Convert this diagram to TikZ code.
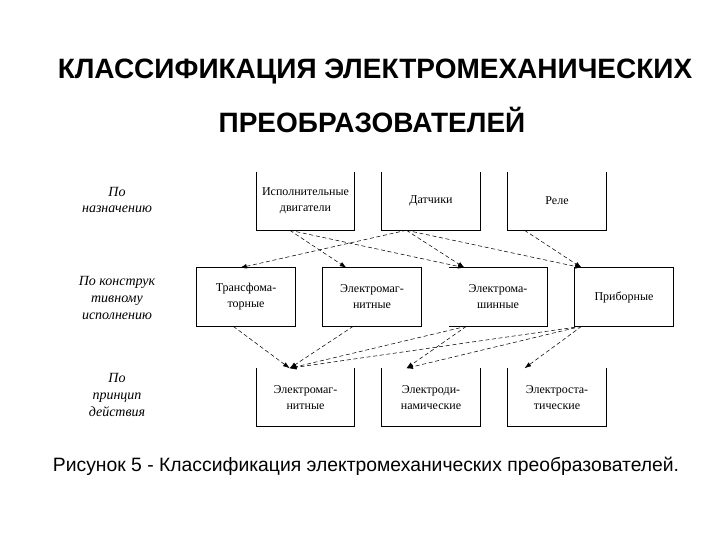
\documentclass[tikz,border=0pt]{standalone}
\usepackage{fontspec}
\setmainfont{Liberation Serif}
\newfontfamily\arial{Liberation Sans}
\usetikzlibrary{calc,arrows.meta}
\begin{document}
\begin{tikzpicture}[x=0.75pt,y=-0.75pt,
  boxn/.style={minimum width=73.5pt,minimum height=43.5pt,inner sep=0pt,align=center,font=\fontsize{9}{12}\selectfont},
  lbl/.style={align=center,font=\itshape\fontsize{10.5}{12.5}\selectfont},
  edge/.style={line width=0.5pt},
  arr/.style={dashed,line width=0.4pt,dash pattern=on 3pt off 2pt,-{Latex[length=5pt,width=3.5pt]}}]
\useasboundingbox (0,0) rectangle (720,540);
\node[font=\arial\bfseries\fontsize{21}{23}\selectfont] (title1) at (375,72) {КЛАССИФИКАЦИЯ ЭЛЕКТРОМЕХАНИЧЕСКИХ};
\node[font=\arial\bfseries\fontsize{21}{23}\selectfont] (title2) at (372,120) {ПРЕОБРАЗОВАТЕЛЕЙ};
\node[font=\arial\fontsize{14.5}{16}\selectfont] (cap) at (366,466) {Рисунок 5 - Классификация электромеханических преобразователей.};
\node[lbl] (l1) at (117,200) {По\\назначению};
\node[lbl] (l2) at (117,298) {По конструк\\тивному\\исполнению};
\node[lbl] (l3) at (117,395) {По\\принцип\\действия};
% top row
\node[boxn] (t1) at (305.5,201) {Исполнительные\\двигатели};
\node[boxn] (t2) at (431,201) {Датчики};
\node[boxn] (t3) at (557,201) {Реле};
% middle row
\node[boxn] (m1) at (246,297) {Трансфома-\\торные};
\node[boxn] (m2) at (372,297) {Электромаг-\\нитные};
\node[boxn] (m3) at (498,297) {Электрома-\\шинные};
\node[boxn] (m4) at (624,297) {Приборные};
% bottom row
\node[boxn] (b1) at (305.5,397.5) {Электромаг-\\нитные};
\node[boxn] (b2) at (431,397.5) {Электроди-\\намические};
\node[boxn] (b3) at (557,397.5) {Электроста-\\тические};
\foreach \n in {t1,t2,t3,b1,b2,b3}
  \draw[edge] (\n.north west) -- (\n.south west) -- (\n.south east) -- (\n.north east);
\foreach \n in {m1,m2,m4}
  \draw[edge] (\n.north west) rectangle (\n.south east);
\draw[edge] (m3.north west) -- (m3.north east) -- (m3.south east) -- (m3.south west);
% arrows top->middle
\draw[arr] ($(t1.south west)!.34!(t1.south east)$) -- ($(m2.north west)!.24!(m2.north east)$);
\draw[arr] ($(t1.south west)!.34!(t1.south east)$) -- ($(m3.north west)!.16!(m3.north east)$);
\draw[arr] ($(t2.south west)!.25!(t2.south east)$) -- ($(m1.north west)!.44!(m1.north east)$);
\draw[arr] ($(t2.south west)!.25!(t2.south east)$) -- ($(m3.north west)!.16!(m3.north east)$);
\draw[arr] ($(t2.south west)!.25!(t2.south east)$) -- ($(m4.north west)!.07!(m4.north east)$);
\draw[arr] ($(t3.south west)!.17!(t3.south east)$) -- ($(m4.north west)!.07!(m4.north east)$);
% arrows middle->bottom
\draw[arr] ($(m1.south west)!.37!(m1.south east)$) -- ($(b1.north west)!.34!(b1.north east)$);
\draw[arr] ($(m2.south west)!.31!(m2.south east)$) -- ($(b1.north west)!.34!(b1.north east)$);
\draw[arr] ($(m3.south west)!.18!(m3.south east)$) -- ($(b1.north west)!.34!(b1.north east)$);
\draw[arr] ($(m3.south west)!.18!(m3.south east)$) -- ($(b2.north west)!.25!(b2.north east)$);
\draw[arr] ($(m4.south west)!.07!(m4.south east)$) -- ($(b1.north west)!.34!(b1.north east)$);
\draw[arr] ($(m4.south west)!.07!(m4.south east)$) -- ($(b2.north west)!.25!(b2.north east)$);
\draw[arr] ($(m4.south west)!.07!(m4.south east)$) -- ($(b3.north west)!.17!(b3.north east)$);
\end{tikzpicture}
\end{document}
